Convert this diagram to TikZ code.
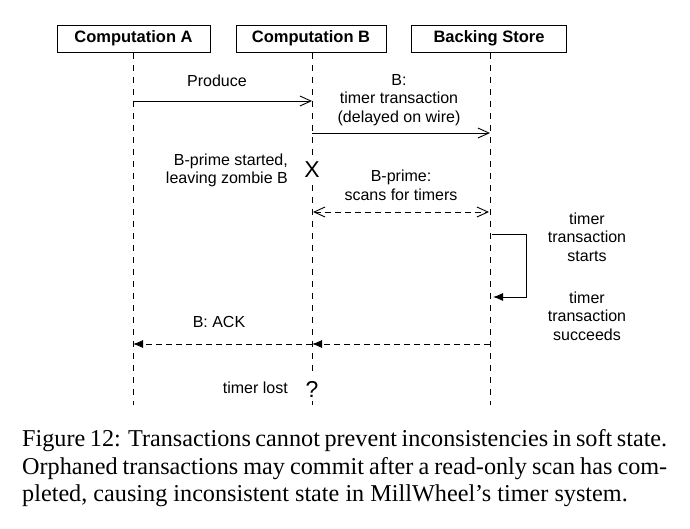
\documentclass[tikz,border=0pt]{standalone}
\usepackage{fontspec}
\setmainfont{Liberation Serif}
\setsansfont{Liberation Sans}
\usetikzlibrary{arrows.meta}
\begin{document}
\begin{tikzpicture}[x=1pt,y=-1pt,
  lbl/.style={font=\sffamily\fontsize{16}{18.5}\selectfont, inner sep=0pt, align=center},
  actor/.style={draw, line width=1pt, minimum height=27pt, inner sep=0pt,
    font=\sffamily\bfseries\fontsize{16.5}{19}\selectfont},
  life/.style={line width=0.9pt, dash pattern=on 6pt off 6pt},
  msg/.style={line width=0.9pt, -{Straight Barb[length=11pt,width=10pt,line width=0.9pt]}},
  dmsg/.style={line width=0.9pt, dash pattern=on 6pt off 4pt,
    {Straight Barb[length=11pt,width=10pt,line width=0.9pt]}-{Straight Barb[length=11pt,width=10pt,line width=0.9pt]}},
  ack/.style={line width=0.9pt, dash pattern=on 6pt off 4pt, -{Latex[length=10pt,width=8pt]}},
  loopline/.style={line width=0.9pt, -{Latex[length=10pt,width=8pt]}},
  bigmark/.style={font=\sffamily\fontsize{23}{26}\selectfont, fill=white, inner xsep=1pt, inner ysep=4pt},
  captext/.style={font=\rmfamily\fontsize{24.2}{27.5}\selectfont, inner sep=0pt, anchor=base west}]
\useasboundingbox (0,0) rectangle (690,528);
\fill[white] (0,0) rectangle (690,528);

% actors
\node[actor, minimum width=153pt] (A) at (133.5,38.5) {Computation A};
\node[actor, minimum width=150pt] (B) at (311,38.5) {Computation B};
\node[actor, minimum width=155pt] (C) at (489,38.5) {Backing Store};

% lifeline ends
\coordinate (Aend) at (133,405);
\coordinate (Bend) at (312,405);
\coordinate (Cend) at (490,405);
\draw[life] (A.south -| Aend) -- (Aend);
\draw[life] (B.south -| Bend) -- (Bend);
\draw[life] (C.south -| Cend) -- (Cend);

% message points
\coordinate (a1) at (133,101); \coordinate (b1) at (312,101);
\coordinate (b2) at (312,133); \coordinate (c2) at (490,133);
\coordinate (b3) at (313,212); \coordinate (c3) at (489,212);
\coordinate (c4) at (492,234); \coordinate (l1) at (526,234);
\coordinate (l2) at (526,297); \coordinate (c5) at (493,297);
\coordinate (c6) at (490,344); \coordinate (b6) at (312,344); \coordinate (a6) at (133,344);

\draw[msg] (a1) -- (b1);
\draw[msg] (b2) -- (c2);
\draw[dmsg] (b3) -- (c3);
\draw[loopline] (c4) -- (l1) -- (l2) -- (c5);
\draw[ack] (c6) -- (b6);
\draw[ack] (b6) -- (a6);

% labels
\node[lbl] (tProduce) at (217,81) {Produce};
\node[lbl] (tB) at (399,100) {B:\\timer transaction\\(delayed on wire)};
\node[lbl, align=right, anchor=east] (tStart) at (288,170.5) {B-prime started,\\leaving zombie B};
\node[bigmark] (X) at (312,170) {X};
\node[lbl] (tScan) at (401,185.5) {B-prime:\\scans for timers};
\node[lbl] (tStarts) at (587,237) {timer\\transaction\\starts};
\node[lbl] (tSucc) at (587,316) {timer\\transaction\\succeeds};
\node[lbl] (tAck) at (219,322) {B: ACK};
\node[lbl, anchor=east] (tLost) at (288,388) {timer lost};
\node[bigmark] (Q) at (312,389) {?};

% caption
\node[captext] (cap1) at (22,446) {\makebox[645pt][s]{Figure 12: Transactions cannot prevent inconsistencies in soft state.}};
\node[captext] (cap2) at (22,474) {\makebox[645pt][s]{Orphaned transactions may commit after a read-only scan has com-}};
\node[captext] (cap3) at (22,501) {pleted, causing inconsistent state in MillWheel’s timer system.};
\end{tikzpicture}
\end{document}
